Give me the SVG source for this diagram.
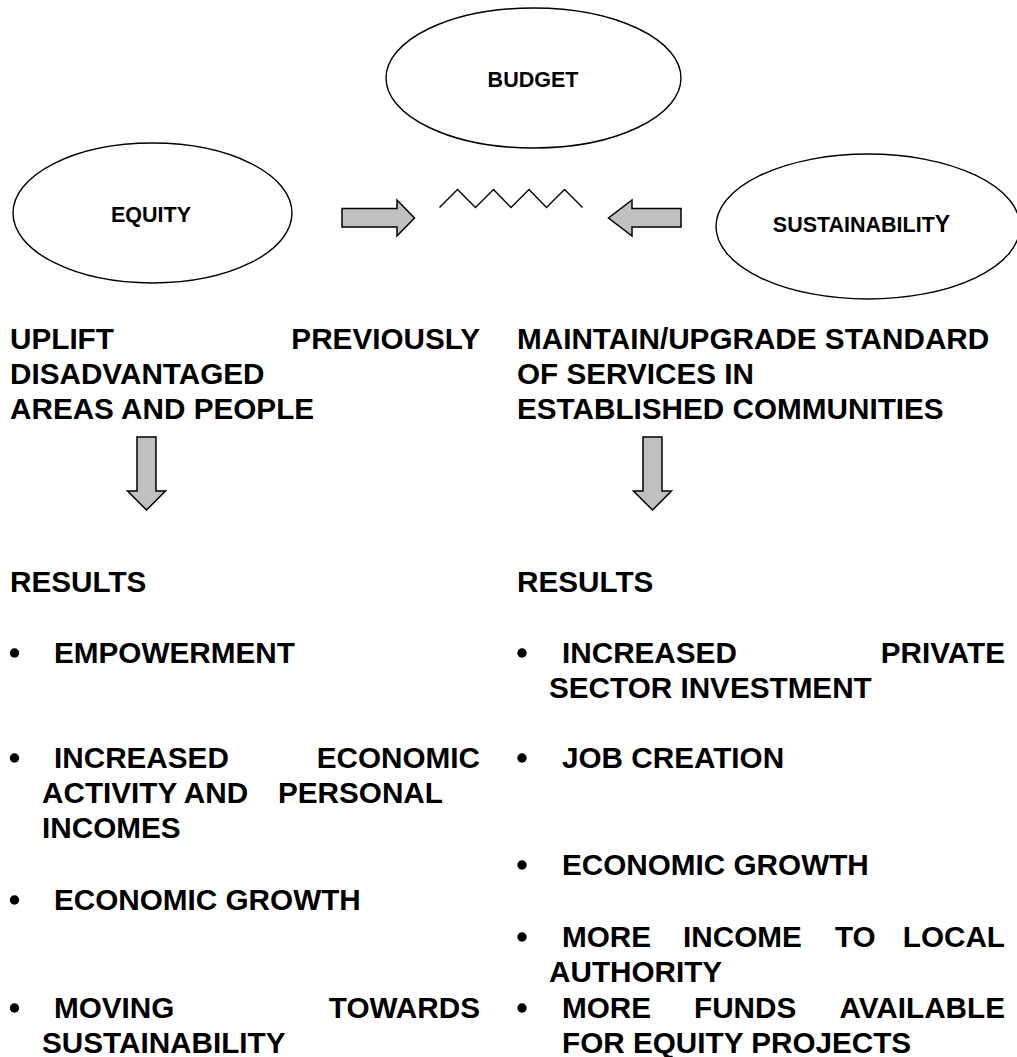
<svg xmlns="http://www.w3.org/2000/svg" width="1017" height="1057" viewBox="0 0 1017 1057">
<style>
  .bg { fill: #ffffff; }
  .node { fill: #ffffff; stroke: #000000; stroke-width: 1.4; }
  .lbl { font-family: "Liberation Sans", Arial, sans-serif; font-weight: bold; fill: #000000; }
  .nlbl { font-size: 21.5px; text-anchor: middle; }
  .txt { font-size: 29.7px; }
  .end { text-anchor: end; }
  .arrow { fill: #c0c0c0; stroke: #000000; stroke-width: 1.5; stroke-linejoin: miter; }
  .zig { fill: none; stroke: #000000; stroke-width: 1.4; }
  .dot { fill: #000000; }
</style>
<rect class="bg" x="0" y="0" width="1017" height="1057"/>

<g id="node-budget">
  <ellipse class="node" cx="533.5" cy="78" rx="147.5" ry="70"/>
  <text class="lbl nlbl" x="533" y="87">BUDGET</text>
</g>
<g id="node-equity">
  <ellipse class="node" cx="152.5" cy="213" rx="139.5" ry="70"/>
  <text class="lbl nlbl" x="151" y="222">EQUITY</text>
</g>
<g id="node-sustainability">
  <ellipse class="node" cx="868" cy="226.5" rx="152" ry="72.5"/>
  <text class="lbl nlbl" x="861.5" y="232">SUSTAINABILIT<tspan font-size="23px">Y</tspan></text>
</g>

<g id="connectors">
  <polygon class="arrow" points="342,208.5 397,208.5 397,200 414.5,218 397,236 397,227 342,227"/>
  <polygon class="arrow" points="681,208.5 632,208.5 632,200 608.5,218 632,236 632,227 681,227"/>
  <polyline class="zig" points="439.5,207.5 457.5,189.5 475.5,207.5 493.5,189.5 511,207.5 529,189.5 546.5,207.5 564.5,189.5 582.5,207.5"/>
  <polygon class="arrow" points="137,437 156,437 156,491 165.5,491 146.5,510 127.5,491 137,491"/>
  <polygon class="arrow" points="643,437 662,437 662,491 671.5,491 652.5,510 633.5,491 643,491"/>
</g>

<g id="equity-goal" class="lbl txt">
  <text x="10" y="349">UPLIFT</text>
  <text class="end" x="480" y="349">PREVIOUSLY</text>
  <text x="10" y="384">DISADVANTAGED</text>
  <text x="10" y="419">AREAS AND PEOPLE</text>
</g>
<g id="sustainability-goal" class="lbl txt">
  <text x="517" y="349">MAINTAIN/UPGRADE STANDARD</text>
  <text x="517" y="384">OF SERVICES IN</text>
  <text x="517" y="419">ESTABLISHED COMMUNITIES</text>
</g>

<g id="equity-results" class="lbl txt">
  <text x="10" y="592">RESULTS</text>
  <circle class="dot" cx="14.5" cy="653" r="4.7"/>
  <text x="54" y="663">EMPOWERMENT</text>
  <circle class="dot" cx="14.5" cy="758" r="4.7"/>
  <text x="54" y="768">INCREASED</text>
  <text class="end" x="480" y="768">ECONOMIC</text>
  <text x="42" y="803">ACTIVITY AND</text>
  <text x="278" y="803">PERSONAL</text>
  <text x="42" y="838">INCOMES</text>
  <circle class="dot" cx="14.5" cy="900" r="4.7"/>
  <text x="54" y="910">ECONOMIC GROWTH</text>
  <circle class="dot" cx="14.5" cy="1008" r="4.7"/>
  <text x="54" y="1018">MOVING</text>
  <text class="end" x="480" y="1018">TOWARDS</text>
  <text x="42" y="1053">SUSTAINABILITY</text>
</g>

<g id="sustainability-results" class="lbl txt">
  <text x="517" y="592">RESULTS</text>
  <circle class="dot" cx="522" cy="653" r="4.7"/>
  <text x="562" y="663">INCREASED</text>
  <text class="end" x="1005" y="663">PRIVATE</text>
  <text x="549" y="698">SECTOR INVESTMENT</text>
  <circle class="dot" cx="522" cy="758" r="4.7"/>
  <text x="562" y="768">JOB CREATION</text>
  <circle class="dot" cx="522" cy="865" r="4.7"/>
  <text x="562" y="875">ECONOMIC GROWTH</text>
  <circle class="dot" cx="522" cy="937" r="4.7"/>
  <text x="562" y="947">MORE</text>
  <text x="683" y="947">INCOME</text>
  <text x="835" y="947">TO</text>
  <text class="end" x="1005" y="947">LOCAL</text>
  <text x="549" y="982">AUTHORITY</text>
  <circle class="dot" cx="522" cy="1008" r="4.7"/>
  <text x="562" y="1018">MORE</text>
  <text x="694" y="1018">FUNDS</text>
  <text class="end" x="1005" y="1018">AVAILABLE</text>
  <text x="562" y="1053">FOR EQUITY PROJECTS</text>
</g>
</svg>
